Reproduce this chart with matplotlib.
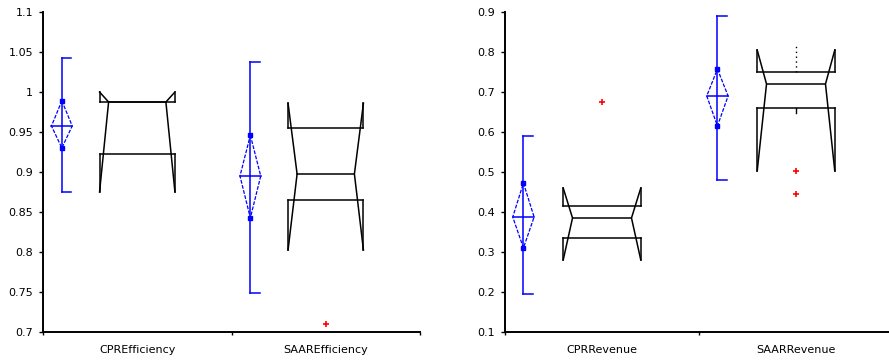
import numpy as np
import matplotlib
matplotlib.use("Agg")
import matplotlib.pyplot as plt

# efficiency panel
eff_groups = ["CPREfficiency", "SAAREfficiency"]
eff_mean = [0.9575, 0.895]
eff_mean_lo = [0.93, 0.8425]
eff_mean_hi = [0.989, 0.946]
eff_bar_lo = [0.875, 0.749]
eff_bar_hi = [1.0425, 1.0375]
eff_q1 = [0.9225, 0.865]
eff_med = [0.9875, 0.8975]
eff_q3 = [0.9875, 0.955]
eff_ci_lo = [0.875, 0.8025]
eff_ci_hi = [1.0, 0.986]
eff_whis_lo = [0.9225, 0.865]
eff_whis_hi = [0.9875, 0.955]
eff_fliers = [[], [0.71]]
eff_ticks = [0.7, 0.75, 0.8, 0.85, 0.9, 0.95, 1.0, 1.05, 1.1]
eff_ticklabels = ["0.7", "0.75", "0.8", "0.85", "0.9", "0.95", "1", "1.05", "1.1"]

# revenue panel
rev_groups = ["CPRRevenue", "SAARRevenue"]
rev_mean = [0.3875, 0.69]
rev_mean_lo = [0.31, 0.615]
rev_mean_hi = [0.4725, 0.7575]
rev_bar_lo = [0.195, 0.48]
rev_bar_hi = [0.59, 0.89]
rev_q1 = [0.335, 0.66]
rev_med = [0.385, 0.72]
rev_q3 = [0.415, 0.75]
rev_ci_lo = [0.28, 0.5025]
rev_ci_hi = [0.46, 0.805]
rev_whis_lo = [0.335, 0.6475]
rev_whis_hi = [0.415, 0.8225]
rev_fliers = [[0.675], [0.5025, 0.445]]
rev_ticks = [0.1, 0.2, 0.3, 0.4, 0.5, 0.6, 0.7, 0.8, 0.9]
rev_ticklabels = ["0.1", "0.2", "0.3", "0.4", "0.5", "0.6", "0.7", "0.8", "0.9"]

BLUE = "#0000ff"
LW = 1.1


def mean_diamond(ax, x, m, lo, hi, blo, bhi, hw=0.055, cap=0.05):
    ax.plot([x, x], [blo, bhi], color=BLUE, lw=LW)
    ax.plot([x, x + cap], [bhi, bhi], color=BLUE, lw=LW)
    ax.plot([x, x + cap], [blo, blo], color=BLUE, lw=LW)
    ax.plot([x, x + hw, x, x - hw, x], [hi, m, lo, m, hi], color=BLUE,
            lw=0.9, ls=(0, (3, 1.2)))
    ax.plot([x - hw, x + hw], [m, m], color=BLUE, lw=LW)
    ax.plot([x, x], [lo, hi], 's', color=BLUE, ms=2.5)


def notched_box(ax, x, q1, med, q3, cilo, cihi, wlo, whi, fl, hw=0.2, inset=0.048):
    L, R = x - hw, x + hw
    cl, cr = L + inset, R - inset
    k = dict(color="black", lw=LW)
    # notch lines
    ax.plot([L, cl, L], [cihi, med, cilo], **k)
    ax.plot([R, cr, R], [cihi, med, cilo], **k)
    # outer sides beyond the hinges
    for side in (L, R):
        ax.plot([side, side], [cihi, q3], **k)
        ax.plot([side, side], [q1, cilo], **k)
    ax.plot([L, R], [q3, q3], **k)
    ax.plot([L, R], [q1, q1], **k)
    ax.plot([cl, cr], [med, med], **k)
    if whi > q3:
        ax.plot([x, x], [q3, whi], color="black", lw=1.0, ls=(0, (1, 2.5)))
    if wlo < q1:
        ax.plot([x, x], [wlo, q1], color="black", lw=1.0)
    if fl:
        ax.plot([x] * len(fl), fl, '+', color="red", ms=4, mew=1.2)


def panel(ax, groups, mean, mlo, mhi, blo, bhi, q1, med, q3, cilo, cihi,
          wlo, whi, fliers, ticks, ticklabels, dpos, bpos):
    for i in range(len(groups)):
        mean_diamond(ax, i + dpos, mean[i], mlo[i], mhi[i], blo[i], bhi[i])
        notched_box(ax, i + bpos, q1[i], med[i], q3[i], cilo[i], cihi[i],
                    wlo[i], whi[i], fliers[i])
    ax.set_xlim(0, len(groups))
    ax.set_ylim(ticks[0], ticks[-1])
    ax.set_yticks(ticks)
    ax.set_yticklabels(ticklabels, fontsize=8)
    ax.set_xticks(range(len(groups) + 1))
    ax.set_xticklabels([])
    for i, g in enumerate(groups):
        ax.text(i + 0.5, -0.055, g, transform=ax.get_xaxis_transform(),
                ha="center", va="center", fontsize=8)
    for s in ["top", "right"]:
        ax.spines[s].set_visible(False)
    for s in ["left", "bottom"]:
        ax.spines[s].set_linewidth(1.4)
    ax.tick_params(axis="y", length=3, width=1, pad=4)
    ax.tick_params(axis="x", length=2, width=1)


fig = plt.figure(figsize=(8.89, 3.6), dpi=100)
ax1 = fig.add_axes([43 / 889, 1 - 332 / 360, 377 / 889, 320 / 360])
ax2 = fig.add_axes([505 / 889, 1 - 332 / 360, 388 / 889, 320 / 360])

panel(ax1, eff_groups, eff_mean, eff_mean_lo, eff_mean_hi, eff_bar_lo, eff_bar_hi,
      eff_q1, eff_med, eff_q3, eff_ci_lo, eff_ci_hi, eff_whis_lo, eff_whis_hi,
      eff_fliers, eff_ticks, eff_ticklabels, 0.1, 0.5)
panel(ax2, rev_groups, rev_mean, rev_mean_lo, rev_mean_hi, rev_bar_lo, rev_bar_hi,
      rev_q1, rev_med, rev_q3, rev_ci_lo, rev_ci_hi, rev_whis_lo, rev_whis_hi,
      rev_fliers, rev_ticks, rev_ticklabels, 0.095, 0.5)

fig.savefig("out.png", dpi=100)
